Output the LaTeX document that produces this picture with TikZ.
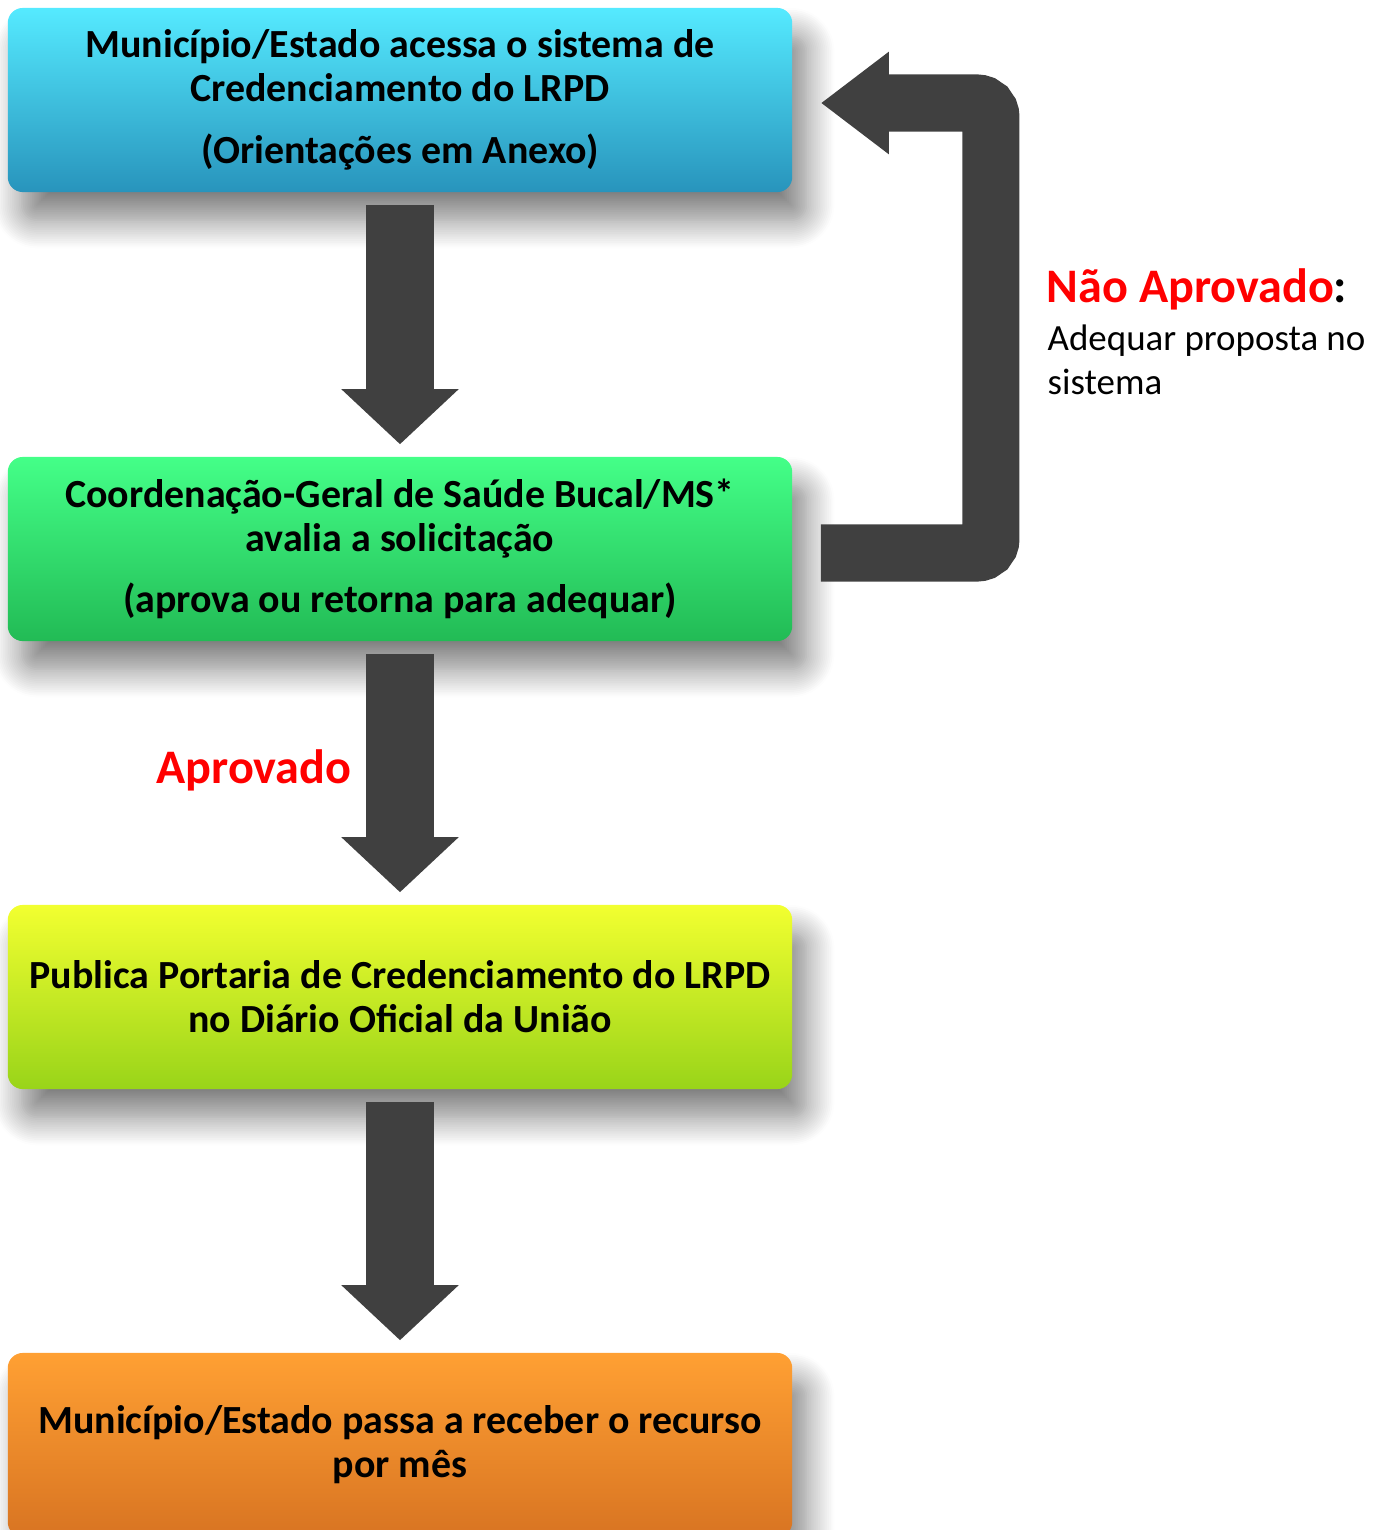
\documentclass[tikz,border=0pt]{standalone}
\usepackage{fontspec}
\setmainfont{Carlito}
\usetikzlibrary{arrows.meta,shadows.blur,calc}
\definecolor{cyanTop}{HTML}{55EAFF}
\definecolor{cyanMid}{HTML}{34ACD8}
\definecolor{cyanBot}{HTML}{2894BC}
\definecolor{grnTop}{HTML}{44FF88}
\definecolor{grnMid}{HTML}{2EE066}
\definecolor{grnBot}{HTML}{22BB55}
\definecolor{ylwTop}{HTML}{F2FF30}
\definecolor{ylwMid}{HTML}{B8EE22}
\definecolor{ylwBot}{HTML}{99D419}
\definecolor{orgTop}{HTML}{FFA033}
\definecolor{orgMid}{HTML}{F28A2A}
\definecolor{orgBot}{HTML}{D87422}
\definecolor{arrowgray}{HTML}{404040}
\definecolor{labelred}{HTML}{FF0000}
\begin{document}
\begin{tikzpicture}[x=0.01cm,y=-0.01cm,
  stepbox/.style={rounded corners=0.15cm, minimum width=7.84cm, minimum height=1.84cm,
    inner sep=0pt, align=center, font=\bfseries\fontsize{11.35}{12.5}\selectfont,
    blur shadow={shadow xshift=4pt, shadow yshift=-8pt, shadow blur radius=8pt,
      shadow blur steps=16, shadow opacity=50}},
  fat/.style={draw=arrowgray, line width=0.68cm, -{Triangle[length=0.55cm,width=1.14cm]}},
  back/.style={draw=arrowgray, line width=0.57cm, rounded corners=0.14cm, -{Triangle[length=0.68cm,width=0.98cm]}},
  redlbl/.style={text=labelred, font=\bfseries\fontsize{13.7}{16}\selectfont, inner sep=0pt},
  plainlbl/.style={font=\fontsize{10.5}{12.5}\selectfont, inner sep=0pt, align=left}]
\useasboundingbox (0,0) rectangle (1388,1530);
\clip (0,0) rectangle (1388,1530);
\node[stepbox, top color=cyanTop, middle color=cyanMid, bottom color=cyanBot] (b1) at (400,100)
  {Município/Estado acessa o sistema de\\Credenciamento do LRPD\\[5pt](Orientações em Anexo)};
\node[stepbox, top color=grnTop, middle color=grnMid, bottom color=grnBot] (b2) at (400,549)
  {Coordenação-Geral de Saúde Bucal/MS*\\avalia a solicitação\\[5pt](aprova ou retorna para adequar)};
\node[stepbox, top color=ylwTop, middle color=ylwMid, bottom color=ylwBot] (b3) at (400,997)
  {Publica Portaria de Credenciamento do LRPD\\no Diário Oficial da União};
\node[stepbox, top color=orgTop, middle color=orgMid, bottom color=orgBot] (b4) at (400,1445)
  {Município/Estado passa a receber o recurso\\por mês};
\draw[fat] ($(b1.south)+(0,12)$) -- ($(b2.north)+(0,-12)$);
\draw[fat] ($(b2.south)+(0,12)$) -- ($(b3.north)+(0,-12)$);
\draw[fat] ($(b3.south)+(0,12)$) -- ($(b4.north)+(0,-12)$);
\draw[back] ($(b2.east)+(28,4)$) -| ($(b1.east)+(198,3)$) -- ($(b1.east)+(28,3)$);
\node[redlbl, anchor=base] (ap) at (254,783) {Aprovado};
\node[redlbl, anchor=base west] (na) at (1046,302) {Não Aprovado\textcolor{black}{:}};
\node[plainlbl, anchor=base west] (nb) at (1047,394) {Adequar proposta no\\sistema};
\end{tikzpicture}
\end{document}
